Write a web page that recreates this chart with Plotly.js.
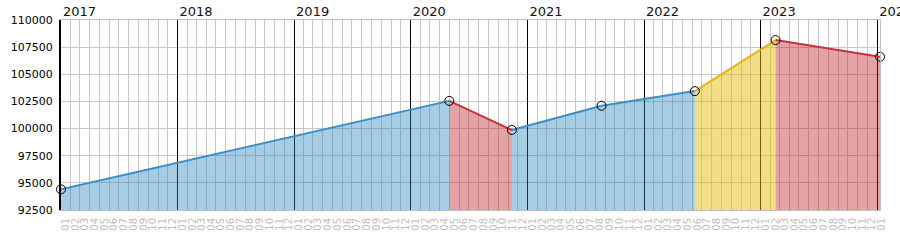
<!DOCTYPE html>
<html>
<head>
<meta charset="utf-8">
<script src="https://cdn.plot.ly/plotly-3.0.1.min.js"></script>
<style>
html,body{margin:0;padding:0;background:#fff;}
#chart{width:900px;height:250px;}
</style>
</head>
<body>
<div id="chart"></div>
<script>
// Data
var dates = ['2017-01-01', '2020-05-01', '2020-11-13', '2021-08-21', '2022-06-09', '2023-02-17', '2024-01-10'];
var values = [94400, 102550, 99870, 102100, 103450, 108150, 106620];
// colour group of each segment between consecutive points
var segmentKinds = ['up', 'down', 'up', 'up', 'fast', 'down'];

var lineColors = {up: '#3a8fc6', down: '#c8323a', fast: '#e8b416'};
var fillColors = {up: 'rgba(33,130,188,0.4)', down: 'rgba(185,25,32,0.4)', fast: 'rgba(227,189,15,0.5)'};

var traces = [];
for (var i = 0; i < segmentKinds.length; i++) {
  var k = segmentKinds[i];
  traces.push({
    type: 'scatter', mode: 'lines',
    x: [dates[i], dates[i + 1]],
    y: [values[i], values[i + 1]],
    fill: 'tozeroy',
    fillcolor: fillColors[k],
    line: {color: lineColors[k], width: 2},
    hoverinfo: 'skip', showlegend: false
  });
}
traces.push({
  type: 'scatter', mode: 'markers',
  x: dates, y: values,
  marker: {symbol: 'circle-open', size: 9, color: '#000', line: {width: 1, color: '#000'}},
  showlegend: false, cliponaxis: false
});
// invisible traces to carry the top (year) axis and the right frame line
traces.push({
  type: 'scatter', mode: 'markers', x: [dates[0]], y: [values[0]],
  xaxis: 'x2', marker: {opacity: 0}, showlegend: false, hoverinfo: 'skip'
});
traces.push({
  type: 'scatter', mode: 'markers', x: [dates[0]], y: [values[0]],
  yaxis: 'y2', marker: {opacity: 0}, showlegend: false, hoverinfo: 'skip'
});

var xr = [dates[0], dates[dates.length - 1]];
var layout = {
  width: 900, height: 250,
  margin: {l: 61, r: 20, t: 20, b: 40, pad: 0},
  paper_bgcolor: '#fff', plot_bgcolor: '#fff',
  font: {family: 'DejaVu Sans', size: 11, color: '#000'},
  showlegend: false,
  xaxis: {
    type: 'date', range: xr, dtick: 'M1', tick0: '2017-01-01', tickformat: '%m',
    tickangle: -90, ticklabelshift: 5, ticklabelstandoff: 3,
    tickfont: {family: 'DejaVu Sans', size: 10, color: '#c0c0c0'},
    showgrid: true, gridcolor: '#c8c8c8', gridwidth: 1,
    showline: true, linecolor: '#c0c0c0', linewidth: 1, mirror: true,
    zeroline: false, ticks: '', fixedrange: true
  },
  xaxis2: {
    type: 'date', range: xr, overlaying: 'x', side: 'top', anchor: 'y',
    dtick: 'M12', tick0: '2017-01-01', tickformat: '%Y',
    ticklabelposition: 'outside right', ticklabelshift: 2, ticklabeloverflow: 'allow',
    tickfont: {family: 'DejaVu Sans', size: 13, color: '#111'},
    showgrid: true, gridcolor: '#000', gridwidth: 1,
    showline: false, zeroline: false, ticks: '', fixedrange: true
  },
  yaxis: {
    range: [92500, 110000], dtick: 2500, tick0: 92500, tickformat: 'd',
    ticklabelstandoff: 4,
    tickfont: {family: 'DejaVu Sans', size: 11, color: '#000'},
    showgrid: true, gridcolor: '#c8c8c8', gridwidth: 1,
    showline: true, linecolor: '#000', linewidth: 2, mirror: false,
    zeroline: false, ticks: '', fixedrange: true
  },
  yaxis2: {
    range: [92500, 110000], overlaying: 'y', side: 'right', anchor: 'x',
    showticklabels: false, showgrid: false, zeroline: false,
    showline: true, linecolor: '#c0c0c0', linewidth: 1, ticks: '', fixedrange: true
  }
};

Plotly.newPlot('chart', traces, layout, {staticPlot: true, displayModeBar: false});
</script>
</body>
</html>
